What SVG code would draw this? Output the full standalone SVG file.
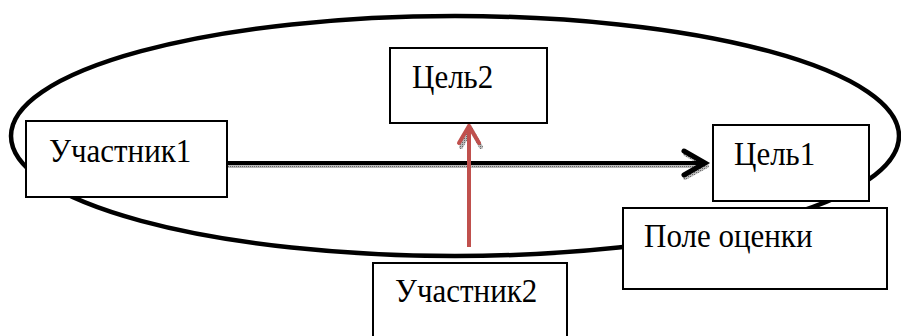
<svg xmlns="http://www.w3.org/2000/svg" width="901" height="336" viewBox="0 0 901 336">
<style>
.box{fill:#fff;stroke:#000;stroke-width:2}
.lbl{font-family:"Liberation Serif","Times New Roman",serif;font-size:31px;fill:#000}
</style>
<defs>
<pattern id="dots" width="2" height="2" patternUnits="userSpaceOnUse"><rect width="2" height="2" fill="#bbb"/><rect width="1" height="1" fill="#666"/></pattern>
</defs>
<rect width="901" height="336" fill="#fff"/>
<ellipse id="field" cx="455" cy="136" rx="444" ry="120" fill="none" stroke="#000" stroke-width="4.5"/>
<g id="connectors">
<g id="shadow" fill="none" stroke="url(#dots)" stroke-width="4" stroke-linecap="round" stroke-linejoin="round">
<line x1="228" y1="166" x2="704" y2="166"/>
<polyline points="685,154 707,166 685,178"/>
</g>
<line x1="227" y1="163" x2="703" y2="163" stroke="#000" stroke-width="4"/>
<polyline points="684,151 705,163 684,175" fill="none" stroke="#000" stroke-width="5" stroke-linecap="round" stroke-linejoin="miter"/>
<polyline points="461,147 471,129 481,147" fill="none" stroke="url(#dots)" stroke-width="4" stroke-linecap="round"/>
<line x1="469" y1="247" x2="469" y2="127" stroke="#c0504d" stroke-width="4"/>
<polyline points="459,143 469,126 479,143" fill="none" stroke="#c0504d" stroke-width="4" stroke-linecap="round"/>
</g>
<g id="uchastnik1"><rect class="box" x="26" y="121" width="201" height="76"/><text class="lbl" transform="translate(49,162) scale(1,1.12)">Участник1</text></g>
<g id="cel2"><rect class="box" x="390" y="48" width="157" height="75"/><text class="lbl" transform="translate(412,88) scale(1,1.12)">Цель2</text></g>
<g id="cel1"><rect class="box" x="713" y="125" width="156" height="76"/><text class="lbl" transform="translate(734,165) scale(1,1.12)">Цель1</text></g>
<g id="pole"><rect class="box" x="623" y="208" width="264" height="81"/><text class="lbl" transform="translate(644,247) scale(1,1.12)">Поле оценки</text></g>
<g id="uchastnik2"><rect class="box" x="373" y="263" width="194" height="80"/><text class="lbl" transform="translate(395,302) scale(1,1.12)">Участник2</text></g>
</svg>
